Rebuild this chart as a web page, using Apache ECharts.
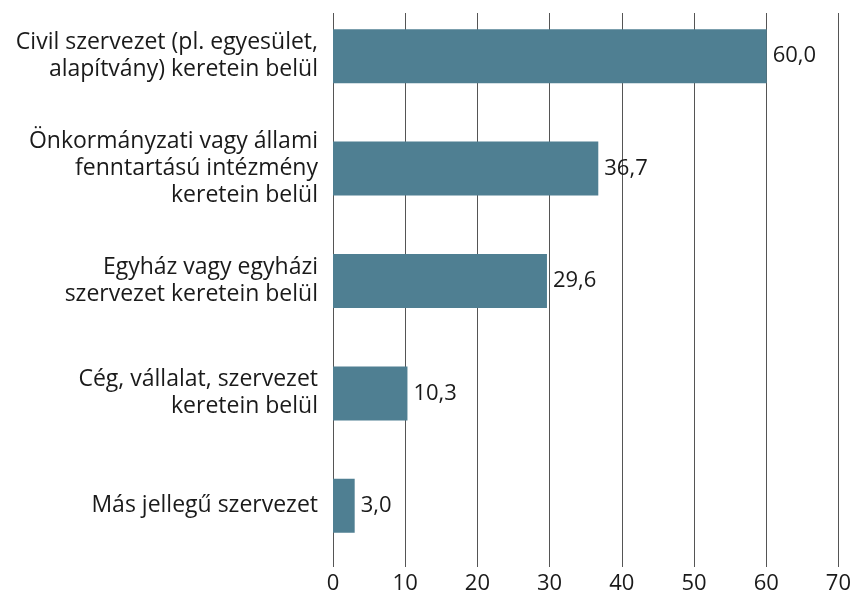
<!DOCTYPE html>
<html>
<head>
<meta charset="utf-8">
<script src="https://cdn.jsdelivr.net/npm/echarts@6/dist/echarts.min.js"></script>
<style>
    html, body { margin: 0; padding: 0; background: #fff; }
    #chart { width: 854px; height: 601px; }
</style>
</head>
<body>
<div id="chart"></div>
<script>
// kategóriák felülről lefelé
var categories = [
    'Civil szervezet (pl. egyesület,\nalapítvány) keretein belül',
    'Önkormányzati vagy állami\nfenntartású intézmény\nkeretein belül',
    'Egyház vagy egyházi\nszervezet keretein belül',
    'Cég, vállalat, szervezet\nkeretein belül',
    'Más jellegű szervezet'
]
var values = [60.0, 36.7, 29.6, 10.3, 3.0]
var axisMin = 0
var axisMax = 70
var axisStep = 10

var fontFamily = '"Open Sans", Roboto, sans-serif'
var barColor = '#4f7f92'

var myChart = echarts.init(document.getElementById('chart'))
var option = {
    animation: false,
    backgroundColor: '#fff',
    grid: [
        // sávok
        { left: 333, right: 15, top: 0, bottom: 39 },
        // rácsvonalak és tengelyfeliratok
        { left: 333, right: 15, top: 13, bottom: 34 }
    ],
    xAxis: [{
        gridIndex: 0,
        type: 'value',
        min: axisMin,
        max: axisMax,
        interval: axisStep,
        axisLine: { show: false },
        axisTick: { show: false },
        axisLabel: { show: false },
        splitLine: { show: false }
    }, {
        gridIndex: 1,
        type: 'value',
        min: axisMin,
        max: axisMax,
        interval: axisStep,
        axisLine: { show: false },
        axisTick: { show: false },
        axisLabel: {
            margin: 6,
            color: '#1a1a1a',
            fontSize: 22,
            fontFamily: fontFamily
        },
        splitLine: {
            show: true,
            lineStyle: { color: '#555', width: 1 }
        }
    }],
    yAxis: [{
        gridIndex: 0,
        type: 'category',
        inverse: true,
        data: categories,
        axisLine: { show: false },
        axisTick: { show: false },
        axisLabel: {
            margin: 15,
            color: '#1a1a1a',
            fontSize: 23,
            lineHeight: 27,
            align: 'right',
            fontFamily: fontFamily
        }
    }, {
        gridIndex: 1,
        type: 'value',
        show: false
    }],
    series: [{
        type: 'bar',
        xAxisIndex: 0,
        yAxisIndex: 0,
        barWidth: '48%',
        itemStyle: { color: barColor },
        label: {
            show: true,
            position: 'right',
            distance: 6,
            color: '#1a1a1a',
            fontSize: 22,
            fontFamily: fontFamily,
            formatter: function (p) {
                return p.value.toFixed(1).replace('.', ',')
            }
        },
        data: values
    }]
}
myChart.setOption(option)
</script>
</body>
</html>
